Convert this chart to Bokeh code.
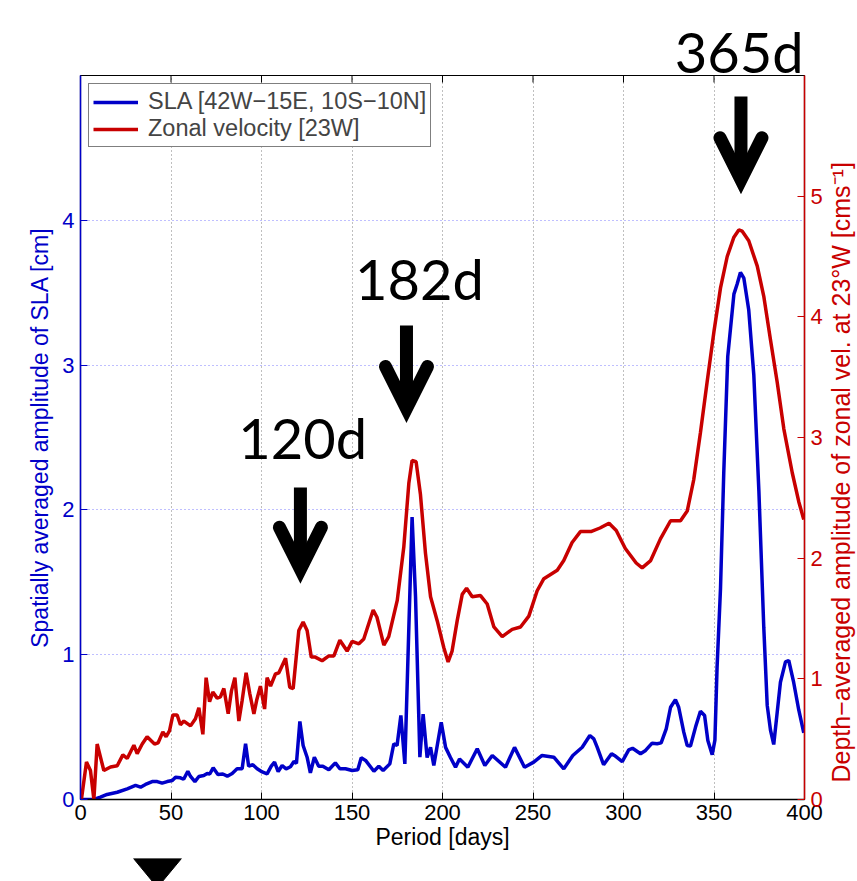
import math
from bokeh.plotting import figure
from bokeh.layouts import row, column
from bokeh.models import (Range1d, LinearAxis, FixedTicker, Label, Arrow,
                          OpenHead, Title)
from bokeh.embed import file_html
from bokeh.resources import INLINE

# ---------------- data ----------------
period_sla = [0.4, 7.4, 11, 14.7, 20.3, 25.8, 30.4, 33.2, 35.9, 39.6,
              42.4, 45.1, 47.9, 50.7, 52.5, 55.2, 57, 59.3, 60.8, 63.2,
              65.4, 68.1, 70, 71.4, 73.3, 75.9, 78.6, 81.1, 83.8, 86.5,
              89.3, 91.2, 92.9, 95.2, 97.6, 100.4, 103.1, 105.4, 107.2, 109.2,
              111.4, 113.6, 116, 117.9, 119.3, 121.2, 123, 125.2, 127, 129.2,
              131.6, 133.9, 137.2, 140.8, 143.3, 146.4, 150.1, 153.2, 155.1, 157.5,
              162.1, 164.8, 167.2, 170.9, 173.1, 174.9, 177, 179.2, 183.2, 185.1,
              187.5, 189.3, 191.5, 193.4, 195.2, 199.3, 201.7, 204.4, 207.2, 209.4,
              214, 219.2, 223.4, 227.5, 234.8, 239.8, 245.3, 250.4, 255, 261.5,
              267, 272, 277.2, 281.4, 283.6, 285.5, 289, 293.4, 295, 299.3,
              302.9, 305, 309.4, 312.2, 315.8, 318.6, 320.8, 323.6, 326, 328.7,
              330.5, 333.3, 335.2, 337, 339.8, 342.5, 344.8, 346.6, 349, 350.5,
              351.7, 353.6, 355.4, 357.6, 361, 362.8, 364.6, 366.5, 369.2, 372,
              374.8, 377.5, 379.4, 381.2, 383, 384.9, 386.7, 389.5, 391.3, 394,
              396.8, 399.6]
amp_sla = [0, 0, 0.016, 0.035, 0.05, 0.074, 0.097, 0.085, 0.104, 0.124,
           0.124, 0.113, 0.124, 0.131, 0.154, 0.15, 0.14, 0.195, 0.159, 0.124,
           0.159, 0.166, 0.18, 0.176, 0.219, 0.173, 0.176, 0.161, 0.18, 0.212,
           0.212, 0.385, 0.23, 0.24, 0.212, 0.19, 0.177, 0.23, 0.258, 0.193,
           0.235, 0.212, 0.226, 0.262, 0.25, 0.539, 0.373, 0.292, 0.184, 0.292,
           0.23, 0.23, 0.205, 0.253, 0.212, 0.212, 0.2, 0.205, 0.288, 0.27,
           0.195, 0.23, 0.2, 0.246, 0.385, 0.373, 0.58, 0.246, 1.95, 1.40,
           0.292, 0.59, 0.29, 0.36, 0.235, 0.534, 0.36, 0.29, 0.223, 0.28,
           0.223, 0.35, 0.235, 0.304, 0.223, 0.36, 0.223, 0.258, 0.304, 0.292,
           0.212, 0.304, 0.361, 0.442, 0.419, 0.36, 0.24, 0.316, 0.304, 0.262,
           0.343, 0.354, 0.316, 0.339, 0.389, 0.385, 0.391, 0.488, 0.637, 0.69,
           0.637, 0.465, 0.373, 0.37, 0.5, 0.61, 0.58, 0.407, 0.31, 0.41,
           0.914, 1.46, 2.26, 3.06, 3.49, 3.56, 3.64, 3.60, 3.38, 2.93,
           2.13, 1.19, 0.65, 0.48, 0.38, 0.60, 0.81, 0.95, 0.96, 0.81,
           0.62, 0.46]

period_u = [0.5, 3.3, 5.5, 7.4, 9.2, 12.9, 16.6, 20.3, 23.4, 25.8,
            29.5, 31.3, 34.1, 36.8, 40.9, 42.9, 45.5, 47.3, 49.2, 51,
            53.4, 55.2, 57.1, 60.8, 63.5, 65.4, 67.6, 69.4, 71.3, 73.1,
            75.5, 77.3, 79.2, 81.6, 83.4, 85.3, 87.5, 89.3, 91.5, 93.5,
            95.8, 97.3, 99.4, 101.7, 103.1, 105, 107.7, 109.6, 113.3, 115.6,
            117.5, 120.6, 123, 125.2, 127.5, 129.7, 133.5, 137.2, 140, 143.3,
            147.3, 150.1, 153.8, 156.5, 161.7, 163.8, 167.6, 170.3, 175, 178.6,
            181.4, 183.2, 185.4, 187.8, 190.6, 193.4, 197.1, 200.7, 203.1, 205.3,
            208.1, 210.9, 213.3, 216.4, 221, 224.7, 228.4, 233, 238.5, 243.1,
            247.7, 252.3, 256, 263.4, 267, 271.6, 276.2, 282, 287, 292,
            296, 301, 307, 310.3, 315, 320.4, 326, 331.5, 335.2, 338.8,
            342.5, 346.2, 350, 353.6, 357.3, 361, 363.7, 365.6, 369.2, 373.9,
            377.5, 381.2, 384.9, 388.6, 393.2, 396.8, 399.6]
amp_u = [0, 0.31, 0.24, 0, 0.46, 0.24, 0.27, 0.28, 0.37, 0.34,
         0.45, 0.38, 0.46, 0.52, 0.46, 0.47, 0.56, 0.52, 0.57, 0.70,
         0.70, 0.62, 0.65, 0.61, 0.67, 0.76, 0.54, 1.01, 0.81, 0.89,
         0.84, 0.85, 0.92, 0.71, 0.90, 1.01, 0.65, 0.82, 1.05, 0.88,
         0.71, 0.82, 0.94, 0.75, 1.01, 0.94, 1.04, 1.05, 1.17, 0.93,
         0.92, 1.40, 1.47, 1.40, 1.18, 1.18, 1.15, 1.19, 1.19, 1.32,
         1.23, 1.31, 1.29, 1.33, 1.57, 1.51, 1.28, 1.35, 1.65, 2.09,
         2.62, 2.81, 2.80, 2.53, 2.04, 1.68, 1.48, 1.26, 1.14, 1.23,
         1.48, 1.70, 1.75, 1.68, 1.69, 1.62, 1.43, 1.35, 1.41, 1.43,
         1.52, 1.73, 1.83, 1.90, 1.98, 2.13, 2.22, 2.22, 2.25, 2.29,
         2.23, 2.08, 1.96, 1.92, 1.98, 2.16, 2.31, 2.31, 2.39, 2.65,
         3.04, 3.46, 3.88, 4.24, 4.50, 4.66, 4.72, 4.71, 4.63, 4.42,
         4.17, 3.81, 3.46, 3.07, 2.71, 2.47, 2.32]

x_ticks = [0, 50, 100, 150, 200, 250, 300, 350, 400]
x_grid = [50, 100, 150, 200, 250, 300, 350]
left_ticks = [0, 1, 2, 3, 4]
left_grid = [1, 2, 3, 4]
right_ticks = [0, 1, 2, 3, 4, 5]

sla_label = "SLA [42W\u221215E, 10S\u221210N]"
u_label = "Zonal velocity [23W]"
x_title = "Period [days]"
left_title = "Spatially averaged amplitude of SLA [cm]"
right_title = "Depth\u2212averaged amplitude of zonal vel. at 23\u00b0W [cms\u207b\u00b9]"

# annotation texts and their placement (data units of the left axis)
ann_text = ["182d", "120d"]
ann_text_x = [187.3, 122.7]
ann_text_y = [3.60, 2.50]
ann_arrow_x = [364.9, 180.1, 121.5]
ann_arrow_top = [4.855, 3.273, 2.155]
ann_arrow_tip = [4.28, 2.70, 1.59]
top_text = "365d"
# cropped arrow head under the chart: periods of its corners
tri_x = [29.3, 55.8, 42.5]
tri_y = [0, 0, -29]

BLUE = "#0000c8"
RED = "#c80000"
FONT = "Liberation Sans"
FS = "22px"
LFS = "23px"

W, H = 857, 881
STRIP = 23          # bottom strip height
RW = 31             # right strip width (right axis title)
BL, BR, BT, BB = 80, 22, 75, 59
X0, X1, Y0, Y1 = 0, 400, 0, 5
PW, PH = W - RW, H - STRIP
FW, FH = PW - BL - BR, PH - BT - BB
TICK = 7

title = Title(text=top_text, align="right", offset=1, text_font="Lato",
              text_font_size="56px", text_font_style="normal",
              text_color="black", vertical_align="bottom")
try:
    title.standoff = -18
except Exception:
    title.standoff = 0

p = figure(width=PW, height=PH, output_backend="svg", toolbar_location=None,
           x_range=Range1d(X0, X1), y_range=Range1d(Y0, Y1),
           min_border_left=BL, min_border_right=BR, min_border_top=BT,
           min_border_bottom=BB, background_fill_color="white",
           border_fill_color="white", title=title)
p.extra_y_ranges = {"u": Range1d(0, 6)}
p.outline_line_color = "black"
p.outline_line_width = 1.2

# grids
p.xgrid.ticker = FixedTicker(ticks=x_grid)
p.xgrid.grid_line_color = "#7f7f7f"
p.xgrid.grid_line_dash = "1 3"
p.xgrid.grid_line_width = 1
p.ygrid.ticker = FixedTicker(ticks=left_grid)
p.ygrid.grid_line_color = "#7f7fff"
p.ygrid.grid_line_dash = "1 3"
p.ygrid.grid_line_width = 1

# top-edge tick marks (inward), at the x ticks
tick_len = TICK / FH * (Y1 - Y0)
p.segment(x0=x_ticks, y0=[Y1] * len(x_ticks), x1=x_ticks,
          y1=[Y1 - tick_len] * len(x_ticks), line_color="black", line_width=1)

# lines
p.line(period_sla, amp_sla, line_color=BLUE, line_width=3.5, legend_label=sla_label)
p.line(period_u, amp_u, line_color=RED, line_width=3.5, y_range_name="u",
       legend_label=u_label)


def style_axis(ax, color, ticks):
    ax.ticker = FixedTicker(ticks=ticks)
    ax.axis_line_color = color
    ax.axis_line_width = 1.5
    ax.major_tick_line_color = color
    ax.major_tick_in = TICK
    ax.major_tick_out = 0
    ax.minor_tick_line_color = None
    ax.major_label_text_color = color
    ax.major_label_text_font = FONT
    ax.major_label_text_font_size = FS
    ax.major_label_standoff = 6
    ax.axis_label_text_color = color
    ax.axis_label_text_font = FONT
    ax.axis_label_text_font_size = LFS
    ax.axis_label_text_font_style = "normal"
    ax.axis_label_standoff = 6


xa = p.xaxis[0]
style_axis(xa, "black", x_ticks)
xa.axis_label = x_title
xa.major_label_standoff = 5
xa.axis_label_standoff = 1

ya = p.yaxis[0]
style_axis(ya, BLUE, left_ticks)
ya.axis_label = left_title

ra = LinearAxis(y_range_name="u")
style_axis(ra, RED, right_ticks)
p.add_layout(ra, "right")

# legend
lg = p.legend[0]
lg.location = "top_left"
lg.margin = 8
lg.padding = 4
lg.spacing = 0
lg.glyph_width = 45
lg.glyph_height = 22
lg.label_height = 22
lg.label_standoff = 10
lg.label_text_font = FONT
lg.label_text_font_size = "23.5px"
lg.border_line_color = "black"
lg.border_line_width = 1
lg.background_fill_alpha = 1

# annotations: labels and arrows
for t, tx, ty in zip(ann_text, ann_text_x, ann_text_y):
    p.add_layout(Label(x=tx, y=ty, text=t, text_font="Lato", text_font_size="56px",
                       text_align="center", text_baseline="alphabetic",
                       text_color="black"))
for ax_, top, tip in zip(ann_arrow_x, ann_arrow_top, ann_arrow_tip):
    p.add_layout(Arrow(x_start=ax_, y_start=top, x_end=ax_, y_end=tip,
                       line_color="black", line_width=13,
                       end=OpenHead(size=42, line_width=13, line_color="black",
                                    line_cap="round", line_join="miter")))

# right strip: right-axis title reading bottom to top
p2 = figure(width=RW, height=PH, output_backend="svg", toolbar_location=None,
            x_axis_location=None, y_axis_location=None,
            min_border_left=0, min_border_right=0, min_border_top=BT,
            min_border_bottom=BB, background_fill_color="white",
            border_fill_color="white")
p2.outline_line_color = None
p2.xgrid.visible = False
p2.ygrid.visible = False
rt = Title(text=right_title, align="left", offset=17, text_font=FONT,
           text_font_size="25px", text_font_style="normal", text_color=RED,
           vertical_align="top", standoff=0)
p2.add_layout(rt, "left")

# bottom strip: top of a cropped black arrow head
p3 = figure(width=W, height=STRIP, output_backend="svg", toolbar_location=None,
            x_range=p.x_range, y_range=Range1d(-STRIP, 0),
            x_axis_location=None, y_axis_location=None,
            min_border_left=BL, min_border_right=W - BL - FW,
            min_border_top=0, min_border_bottom=0,
            background_fill_color="white", border_fill_color="white")
p3.outline_line_color = None
p3.xgrid.visible = False
p3.ygrid.visible = False
p3.patch(tri_x, tri_y, fill_color="black", line_color="black")

root = column(row(p, p2, spacing=0), p3, spacing=0)
open("out.html", "w").write(file_html(root, INLINE))
